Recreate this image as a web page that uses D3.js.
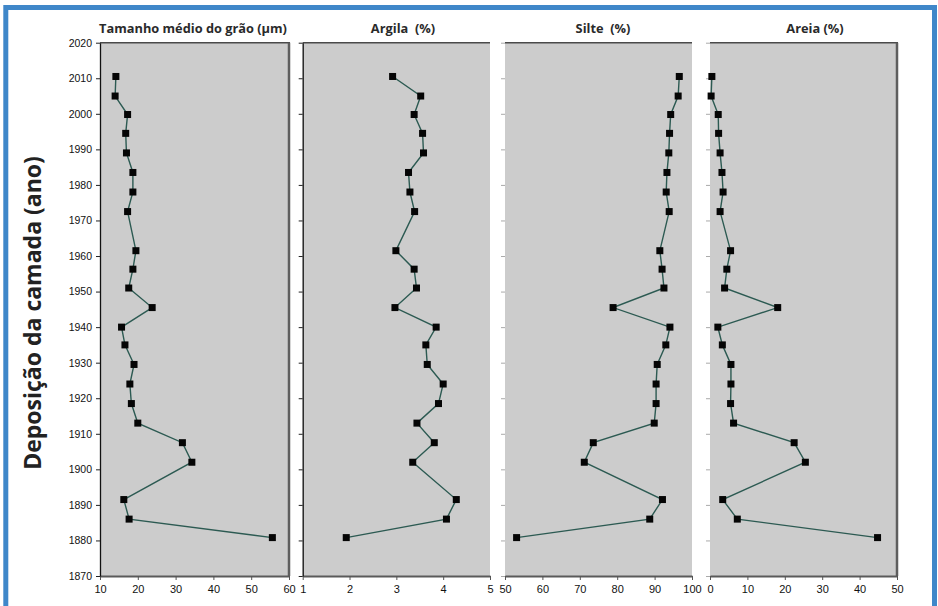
<!DOCTYPE html>
<html>
<head>
<meta charset="utf-8">
<script src="https://cdn.jsdelivr.net/npm/d3@7"></script>
<style>
  html, body { margin: 0; padding: 0; background: #fff; }
  svg { display: block; }
</style>
</head>
<body>
<svg id="chart" width="938" height="606"></svg>
<script>
// Deposition year of each sampled layer (top of core first)
const years = [2010.5, 2005, 1999.8, 1994.5, 1989, 1983.5, 1978, 1972.5, 1961.5, 1956.3, 1951,
  1945.5, 1940, 1935, 1929.5, 1924, 1918.5, 1913, 1907.5, 1902, 1891.5, 1886, 1880.8];

// Mean grain size (µm)
const grainSize = [14.2, 14.0, 17.3, 16.8, 17.0, 18.7, 18.7, 17.3, 19.5, 18.7, 17.6,
  23.8, 15.7, 16.6, 19.0, 17.9, 18.3, 20.0, 31.8, 34.3, 16.3, 17.7, 55.6];

// Clay fraction (%)
const clay = [2.92, 3.52, 3.38, 3.56, 3.58, 3.26, 3.29, 3.39, 2.99, 3.38, 3.43,
  2.97, 3.85, 3.63, 3.66, 4.00, 3.90, 3.44, 3.81, 3.35, 4.28, 4.07, 1.93];

// Silt fraction (%)
const silt = [96.6, 96.3, 94.3, 94.0, 93.8, 93.3, 93.1, 93.9, 91.4, 92.0, 92.5,
  78.9, 94.1, 93.0, 90.7, 90.4, 90.4, 89.9, 73.6, 71.2, 92.1, 88.7, 53.1];

// Sand fraction (%)
const sand = [0.5, 0.3, 2.2, 2.3, 2.7, 3.2, 3.5, 2.7, 5.5, 4.5, 3.9,
  18.1, 2.1, 3.3, 5.6, 5.6, 5.5, 6.3, 22.5, 25.5, 3.4, 7.3, 44.8];

// Panel titles and axis tick values
const titles = ["Tamanho médio do grão (µm)", "Argila  (%)", "Silte  (%)", "Areia (%)"];
const yearTicks = d3.range(1870, 2021, 10);
const xTicks = [
  [10, 20, 30, 40, 50, 60],
  [1, 2, 3, 4, 5],
  [50, 60, 70, 80, 90, 100],
  [0, 10, 20, 30, 40, 50]
];
const xDomains = [[10, 60], [1, 5], [50, 100], [0, 50]];
const series = [grainSize, clay, silt, sand];
const yLabel = "Deposição da camada (ano)";

// ---- layout ----
const svg = d3.select("#chart");
const plotTop = 42.7, plotBottom = 576;
const panelX = [[100, 289], [302.7, 490], [505, 692], [710, 897]];
const titleX = [193, 403, 603, 815];

const y = d3.scaleLinear().domain([1870, 2020]).range([plotBottom, plotTop]);

// outer frame
svg.append("rect")
  .attr("x", 5.8).attr("y", 7.5)
  .attr("width", 928.7).attr("height", 700)
  .attr("fill", "#fff")
  .attr("stroke", "#3f87c9")
  .attr("stroke-width", 5);

const tickFont = "'Liberation Sans', Arial, sans-serif";

series.forEach((vals, i) => {
  const [x0, x1] = panelX[i];
  const x = d3.scaleLinear().domain(xDomains[i]).range([x0, x1]);
  const g = svg.append("g");

  // plot area
  g.append("rect")
    .attr("x", x0).attr("y", plotTop)
    .attr("width", x1 - x0).attr("height", plotBottom - plotTop)
    .attr("fill", "#cccccc");

  // top border
  g.append("line")
    .attr("x1", x0).attr("x2", x1 + (i === 0 || i === 3 ? 1 : 0))
    .attr("y1", plotTop).attr("y2", plotTop)
    .attr("stroke", "#4a4a4a").attr("stroke-width", 1.5);

  // right border on the outer panels
  if (i === 0 || i === 3) {
    g.append("line")
      .attr("x1", x1).attr("x2", x1)
      .attr("y1", plotTop).attr("y2", plotBottom)
      .attr("stroke", "#5e5e5e").attr("stroke-width", 2.5);
  }

  // bottom axis
  const xAxis = d3.axisBottom(x)
    .tickValues(xTicks[i])
    .tickFormat(d3.format("d"))
    .tickSize(4)
    .tickSizeOuter(0)
    .tickPadding(5);
  const gx = g.append("g")
    .attr("transform", `translate(0,${plotBottom})`)
    .call(xAxis);
  gx.select(".domain").attr("stroke", "#5a5a5a").attr("stroke-width", 2);
  gx.selectAll(".tick line").attr("stroke", "#555");
  gx.selectAll(".tick text")
    .attr("font-family", tickFont)
    .attr("font-size", 11)
    .attr("fill", "#111");

  // left axis: labelled on the first panel, ticks only elsewhere
  const yAxis = d3.axisLeft(y)
    .tickValues(yearTicks)
    .tickSize(4)
    .tickSizeOuter(0)
    .tickPadding(4)
    .tickFormat(i === 0 ? d3.format("d") : () => "");
  const gy = g.append("g")
    .attr("transform", `translate(${x0},0)`)
    .call(yAxis);
  if (i < 2) {
    gy.select(".domain").attr("stroke", "#111").attr("stroke-width", 1.3);
    gy.selectAll(".tick line").attr("stroke", "#222");
  } else {
    gy.select(".domain").attr("stroke", "none");
    gy.selectAll(".tick line").attr("stroke", "#aaa");
  }
  gy.selectAll(".tick text")
    .attr("font-family", tickFont)
    .attr("font-size", 10.5)
    .attr("fill", "#111");

  // profile line
  const pts = years.map((yr, k) => [yr, vals[k]]);
  g.append("path")
    .datum(pts)
    .attr("fill", "none")
    .attr("stroke", "#2c5a52")
    .attr("stroke-width", 1.4)
    .attr("d", d3.line().x(d => x(d[1])).y(d => y(d[0])));

  // square markers
  const s = 7;
  g.selectAll("rect.mk")
    .data(pts)
    .join("rect")
    .attr("class", "mk")
    .attr("x", d => x(d[1]) - s / 2)
    .attr("y", d => y(d[0]) - s / 2)
    .attr("width", s).attr("height", s)
    .attr("fill", "#050505");

  // panel title
  svg.append("text")
    .attr("x", titleX[i]).attr("y", 33)
    .attr("text-anchor", "middle")
    .style("white-space", "pre")
    .attr("font-family", "'Open Sans', sans-serif")
    .attr("font-weight", "bold")
    .attr("font-size", 12.8)
    .attr("fill", "#2a2a2a")
    .text(titles[i]);
});

// vertical axis title
svg.append("text")
  .attr("transform", `translate(41,${313}) rotate(-90)`)
  .attr("text-anchor", "middle")
  .attr("font-family", "'Open Sans', sans-serif")
  .attr("font-weight", "bold")
  .attr("font-size", 23)
  .attr("fill", "#222")
  .text(yLabel);
</script>
</body>
</html>
